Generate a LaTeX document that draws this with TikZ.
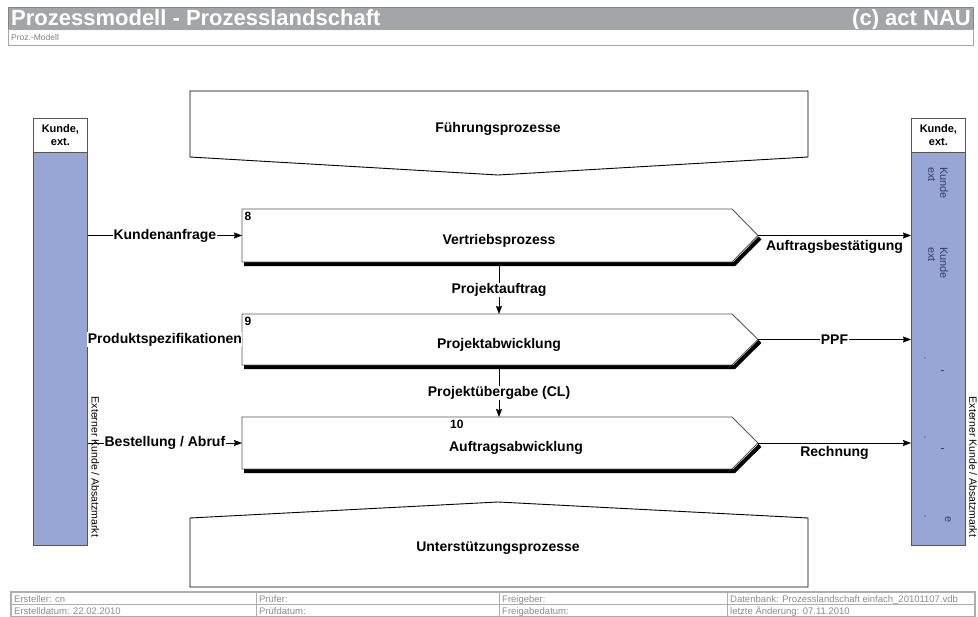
\documentclass[tikz,border=0pt]{standalone}
\usepackage{fontspec}
\setmainfont{Liberation Sans}
\usetikzlibrary{arrows.meta}
\definecolor{hdrgray}{RGB}{163,165,168}
\definecolor{colfill}{RGB}{151,166,213}
\definecolor{coltext}{RGB}{50,62,110}
\definecolor{boxline}{RGB}{85,85,85}
\definecolor{footgray}{RGB}{140,140,140}
\begin{document}
\begin{tikzpicture}[x=1pt,y=-1pt,
  lbl/.style={font=\fontsize{14}{16}\selectfont\bfseries, inner sep=0.5pt},
  proctext/.style={font=\fontsize{14}{16}\selectfont\bfseries, inner sep=0pt},
  numtext/.style={font=\fontsize{12}{14}\selectfont\bfseries, inner sep=0pt, anchor=north west},
  conn/.style={draw=black, line width=0.8pt, -{Stealth[length=8pt,width=6pt,inset=1pt]}},
  procshape/.style={draw=boxline, fill=white, line width=0.9pt, line join=miter},
  shadowline/.style={draw=black, line width=4pt, line join=miter},
  bigshape/.style={draw=black, fill=white, line width=0.9pt},
  colbox/.style={draw=boxline, fill=colfill, line width=0.8pt, inner sep=0pt, anchor=north west, minimum width=54pt, minimum height=427pt},
  colhead/.style={draw=boxline, fill=white, line width=0.8pt, inner sep=0pt, anchor=north west, minimum width=54pt, minimum height=34pt, align=center, font=\fontsize{11}{13}\selectfont\bfseries},
  sidetext/.style={rotate=-90, font=\fontsize{10.5}{12}\selectfont, inner sep=0pt},
  coltextstyle/.style={rotate=-90, font=\fontsize{11}{12}\selectfont, text=coltext, align=left, inner sep=0pt},
  foottext/.style={anchor=base west, font=\fontsize{9.5}{10}\selectfont, text=footgray, inner sep=0pt}
]
\useasboundingbox (0,0) rectangle (978,617);

% header
\node[fill=hdrgray, draw=hdrgray!80!black, line width=0.6pt, minimum width=965pt, minimum height=22pt, inner sep=0pt, anchor=north west] (hdr) at (8,7) {};
\node[anchor=base west, text=white, font=\fontsize{22}{24}\selectfont\bfseries, inner sep=0pt] (title) at (11,25.5) {Prozessmodell - Prozesslandschaft};
\node[anchor=base east, text=white, font=\fontsize{22}{24}\selectfont\bfseries, inner sep=0pt] (copy) at (971,25.5) {(c) act NAU};
\node[draw=gray!70, line width=0.6pt, minimum width=965pt, minimum height=16pt, inner sep=0pt, anchor=north west] (sub) at (8,29) {};
\node[anchor=west, text=gray, font=\fontsize{8.5}{10}\selectfont, inner sep=0pt] (subtxt) at (11,37) {Proz.-Modell};

% top and bottom process shapes
\path[bigshape] (190,91) -- (808,91) -- (808,157) -- (498,175) -- (190,157) -- cycle;
\node[proctext] (fuehr) at (498,129) {Führungsprozesse};
\path[bigshape] (190,518) -- (498,502) -- (808,518) -- (808,587) -- (190,587) -- cycle;
\node[proctext] (unter) at (498,548) {Unterstützungsprozesse};

% customer columns
\node[colbox] (lcol) at (33,118) {};
\node[colhead] (lhead) at (33,118) {Kunde,\\ext.};
\node[sidetext] (lext) at (95.5,467) {Externer Kunde / Absatzmarkt};

\node[colbox] (rcol) at (911,118) {};
\node[colhead] (rhead) at (911,118) {Kunde,\\ext.};
\node[sidetext] (rext) at (973,467) {Externer Kunde / Absatzmarkt};
\node[coltextstyle, anchor=west] (rk1) at (938,167) {Kunde\\ext};
\node[coltextstyle, anchor=west] (rk2) at (938,247) {Kunde\\ext};
\fill[coltext] (925,358) circle (0.7pt) (925,437) circle (0.7pt) (925,516) circle (0.7pt);
\draw[coltext, line width=0.8pt] (940.5,370) -- (943.5,370) (940.5,448) -- (943.5,448);
\node[rotate=-90, font=\fontsize{11}{12}\selectfont, text=coltext, inner sep=0pt] (re) at (948,520) {e};

% process boxes
\path[shadowline] (244,264.2) -- (734,264.2) -- (760,238);
\path[procshape] (242,209) -- (732,209) -- (758,235.5) -- (732,262) -- (242,262) -- cycle;
\path[shadowline] (244,367.2) -- (734,367.2) -- (760,341.5);
\path[procshape] (242,314) -- (732,314) -- (758,339.5) -- (732,365) -- (242,365) -- cycle;
\path[shadowline] (244,471.2) -- (734,471.2) -- (760,445.5);
\path[procshape] (242,417) -- (732,417) -- (758,443) -- (732,469) -- (242,469) -- cycle;

\coordinate (p8l) at (242,235.5);
\coordinate (p8r) at (758,235.5);
\coordinate (p8b) at (499,266.5);
\coordinate (p9t) at (499,314);
\coordinate (p9l) at (242,339.5);
\coordinate (p9r) at (758,339.5);
\coordinate (p9b) at (499,369.5);
\coordinate (p10t) at (499,417);
\coordinate (p10l) at (242,443);
\coordinate (p10r) at (758,443);

\node[numtext] (n8) at (244.5,211.5) {8};
\node[proctext] (t8) at (499,241) {Vertriebsprozess};
\node[numtext] (n9) at (244.5,316.5) {9};
\node[proctext] (t9) at (499,345) {Projektabwicklung};
\node[numtext] (n10) at (450,420) {10};
\node[proctext] (t10) at (516,448) {Auftragsabwicklung};

% connectors
\draw[conn] (lcol.east |- p8l) -- (p8l) node[lbl, fill=white, midway] {Kundenanfrage};
\draw[conn] (lcol.east |- p9l) -- (p9l) node[lbl, fill=white, midway] {Produktspezifikationen};
\draw[conn] (lcol.east |- p10l) -- (p10l) node[lbl, fill=white, midway] {Bestellung / Abruf};

\draw[conn] (p8b) -- (p9t) node[lbl, fill=white, pos=0.5] {Projektauftrag};
\draw[conn] (p9b) -- (p10t) node[lbl, fill=white, pos=0.5] {Projektübergabe (CL)};

\draw[conn] (p8r) -- (rcol.west |- p8r) node[lbl, midway, anchor=north, yshift=-4pt] {Auftragsbestätigung};
\draw[conn] (p9r) -- (rcol.west |- p9r) node[lbl, fill=white, midway] {PPF};
\draw[conn] (p10r) -- (rcol.west |- p10r) node[lbl, midway, anchor=north, yshift=-2pt] {Rechnung};

% footer table
\draw[footgray!70, line width=0.6pt] (10,591) rectangle (975,617);
\draw[footgray!70, line width=0.6pt] (11,592.5) rectangle (974,616);
\draw[footgray!70, line width=0.6pt] (11,604.5) -- (974,604.5);
\draw[footgray!70, line width=0.6pt] (256,592.5) -- (256,616) (499,592.5) -- (499,616) (727,592.5) -- (727,616);
\node[foottext] (f1) at (14,602) {Ersteller: cn};
\node[foottext] (f2) at (259,602) {Prüfer:};
\node[foottext] (f3) at (502,602) {Freigeber:};
\node[foottext] (f4) at (730,602) {Datenbank: Prozesslandschaft einfach\_20101107.vdb};
\node[foottext] (f5) at (14,614) {Erstelldatum: 22.02.2010};
\node[foottext] (f6) at (259,614) {Prüfdatum:};
\node[foottext] (f7) at (502,614) {Freigabedatum:};
\node[foottext] (f8) at (730,614) {letzte Änderung: 07.11.2010};
\end{tikzpicture}
\end{document}
